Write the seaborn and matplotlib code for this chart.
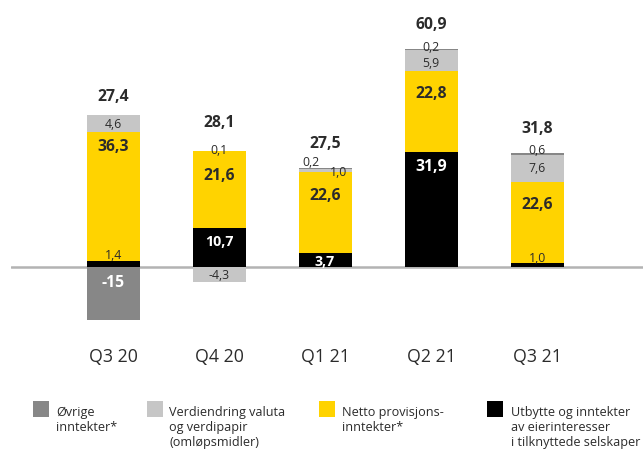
import matplotlib
matplotlib.use("Agg")
import matplotlib.pyplot as plt
import seaborn as sns
import pandas as pd
import numpy as np
from matplotlib.patches import Rectangle

# ---------------- data ----------------
quarters = ["Q3 20", "Q4 20", "Q1 21", "Q2 21", "Q3 21"]
utbytte = [1.4, 10.7, 3.7, 31.9, 1.0]          # black
netto_provisjon = [36.3, 21.6, 22.6, 22.8, 22.6]  # yellow
verdiendring = [4.6, -4.3, 1.0, 5.9, 7.6]      # light grey
ovrige = [-15.0, 0.1, 0.2, 0.2, 0.6]           # dark grey
totals = [27.4, 28.1, 27.5, 60.9, 31.8]

legend_labels = [
    "Øvrige\ninntekter*",
    "Verdiendring valuta\nog verdipapir\n(omløpsmidler)",
    "Netto provisjons-\ninntekter*",
    "Utbytte og inntekter\nav eierinteresser\ni tilknyttede selskaper",
]

# ---------------- style ----------------
C_BLACK = "#000000"
C_YELLOW = "#ffd300"
C_LIGHT = "#c6c6c6"
C_DARK = "#878787"
TXT = "#2b2b2b"

W, H = 643, 452
sns.set_theme(style="white")
plt.rcParams["font.family"] = ["Open Sans", "DejaVu Sans"]

fig = plt.figure(figsize=(W / 100, H / 100), dpi=100)
ax_left, ax_right, ax_top, ax_bottom = 11, 643, 0, 330
ax = fig.add_axes([ax_left / W, 1 - ax_bottom / H,
                   (ax_right - ax_left) / W, (ax_bottom - ax_top) / H])

stack = [
    (utbytte, C_BLACK),
    (netto_provisjon, C_YELLOW),
    (verdiendring, C_LIGHT),
    (ovrige, C_DARK),
]

pos_base = np.zeros(len(quarters))
neg_base = np.zeros(len(quarters))
for vals, color in stack:
    v = np.array(vals, dtype=float)
    bottom = np.where(v >= 0, pos_base, neg_base)
    df = pd.DataFrame({"kvartal": quarters, "verdi": v})
    sns.barplot(data=df, x="kvartal", y="verdi", order=quarters, color=color,
                saturation=1, width=0.5, errorbar=None, linewidth=0,
                bottom=bottom, ax=ax, zorder=2)
    pos_base += np.where(v >= 0, v, 0)
    neg_base += np.where(v < 0, v, 0)

ax.axhline(0, color="#b3b3b3", lw=1.8, zorder=1)

px_per_unit = 3.58
zero_px = 267.5
ax.set_ylim(-(ax_bottom - zero_px) / px_per_unit, (zero_px - ax_top) / px_per_unit)
spacing = 106.0
c0 = 113.0
ax.set_xlim((ax_left - c0) / spacing, (ax_right - c0) / spacing)

ax.set_yticks([])
ax.set_xlabel("")
ax.set_ylabel("")
for s in ax.spines.values():
    s.set_visible(False)
ax.set_xticks(range(len(quarters)))
ax.set_xticklabels(quarters)
ax.tick_params(axis="x", length=0, pad=13, labelsize=12.8, labelcolor=TXT)


def fmt(v):
    if float(v).is_integer() and abs(v) >= 10:
        return f"{int(v)}"
    return f"{v:.1f}".replace(".", ",")


BIG, MID, SMALL = 11.3, 10.3, 8.8
# label placement per series (stack order) and category: (ref, dx px, dy px, size, color)
label_style = [
    [("top", 0, 7, SMALL, TXT), ("top", 0, -13, MID, "white"), ("center", 0, -1.5, MID, "white"),
     ("top", 0, -14, BIG, "white"), ("top", 0, 5, SMALL, TXT)],
    [("top", 0, -14, BIG, TXT), ("top", 0, -24, BIG, TXT), ("top", 0, -23, BIG, TXT),
     ("top", 0, -22, BIG, TXT), ("top", 0, -22, BIG, TXT)],
    [("center", 0, 0, SMALL, TXT), ("center", 0, 0, SMALL, TXT), ("center", 13, -1, SMALL, TXT),
     ("center", 0, -2, SMALL, TXT), ("center", 0, 1, SMALL, TXT)],
    [("center", 0, 11, BIG, "white"), ("top", 0, 1, SMALL, TXT), ("top", -14, 7, SMALL, TXT),
     ("top", 0, 2, SMALL, TXT), ("top", 0, 3, SMALL, TXT)],
]

tops = np.full(len(quarters), -np.inf)
for si, (cont, (vals, _)) in enumerate(zip(ax.containers, stack)):
    for ci, patch in enumerate(cont.patches):
        x = patch.get_x() + patch.get_width() / 2
        y0 = patch.get_y()
        h = patch.get_height()
        top = max(y0, y0 + h)
        tops[ci] = max(tops[ci], top)
        ref, dx, dy, size, col = label_style[si][ci]
        yref = top if ref == "top" else y0 + h / 2
        ax.annotate(fmt(vals[ci]), (x, yref), xytext=(dx, dy), textcoords="offset pixels",
                    ha="center", va="center", fontsize=size, color=col,
                    fontweight="bold" if size >= MID else "normal", zorder=5)

total_dy = [19, 29, 25, 25, 25]
for ci, t in enumerate(totals):
    ax.annotate(fmt(t), (ci, tops[ci]), xytext=(0, total_dy[ci]), textcoords="offset pixels",
                ha="center", va="center", fontsize=11.3, color=TXT, fontweight="bold")

# ---------------- legend ----------------
leg_colors = [C_DARK, C_LIGHT, C_YELLOW, C_BLACK]
sq_x = [33, 147, 319, 487]
txt_x = [56, 169, 342, 511]
sq_y, sq = 402, 16
for c, sx, tx, lab in zip(leg_colors, sq_x, txt_x, legend_labels):
    fig.add_artist(Rectangle((sx / W, 1 - (sq_y + sq) / H), sq / W, sq / H,
                             transform=fig.transFigure, facecolor=c, edgecolor="none"))
    fig.text(tx / W, 1 - 406 / H, lab, ha="left", va="top", fontsize=9.1,
             color=TXT, linespacing=1.2)

fig.savefig("out.png", dpi=100, facecolor="white")
